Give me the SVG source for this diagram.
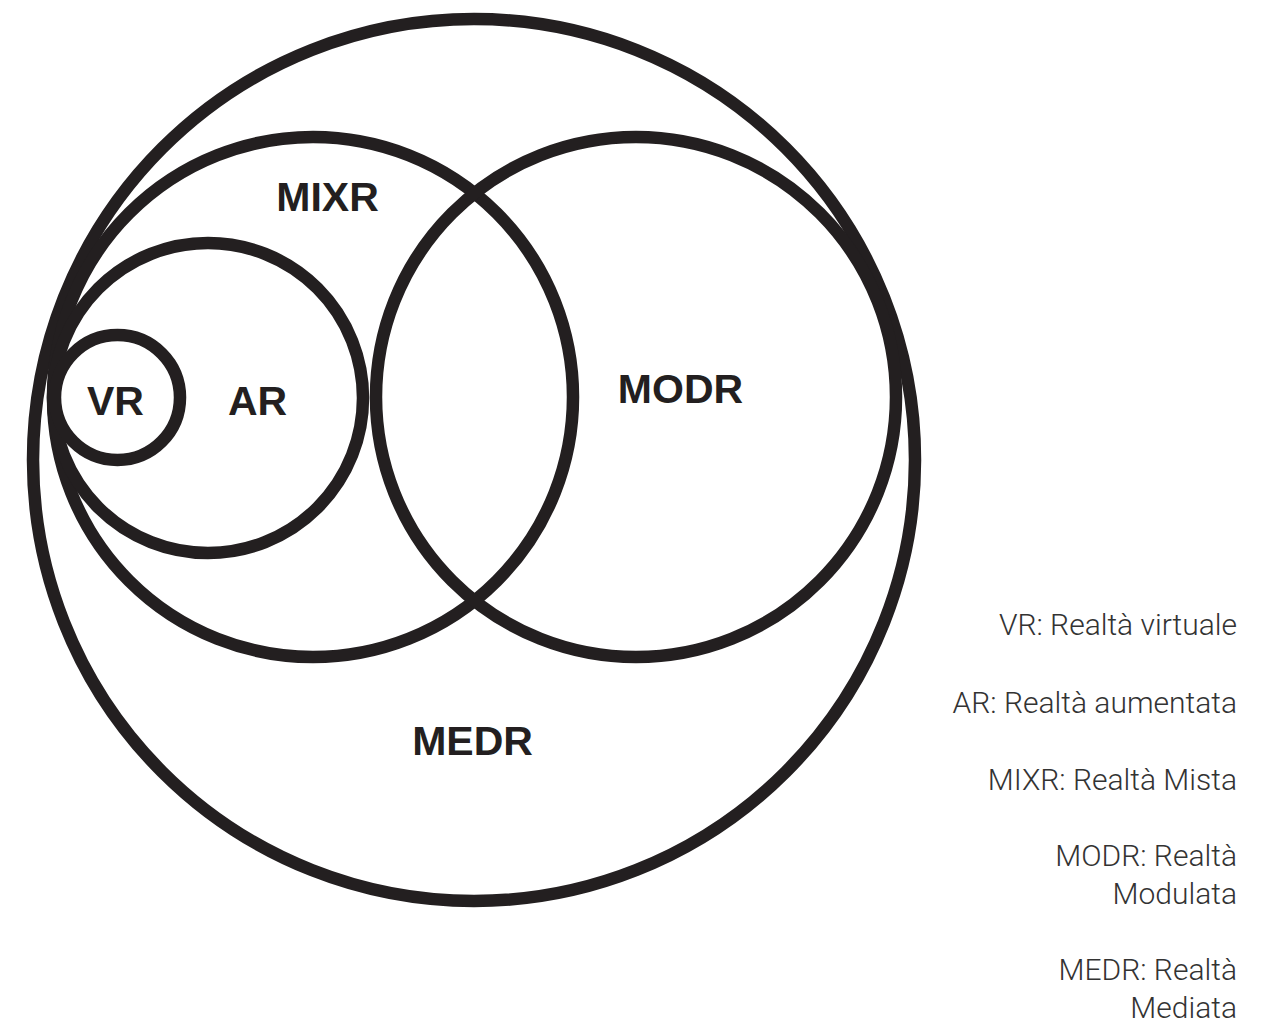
<svg xmlns="http://www.w3.org/2000/svg" width="1272" height="1025" viewBox="0 0 1272 1025">
<style>
.ring{fill:none;stroke:#231f20;stroke-width:12.5}
.lbl{font-family:"Liberation Sans",Arial,sans-serif;font-weight:bold;font-size:41px;fill:#231f20;text-anchor:middle}
.leg{font-family:Roboto,"Liberation Sans",sans-serif;font-weight:300;font-size:30px;fill:#333333;text-anchor:end}
</style>
<rect width="1272" height="1025" fill="#ffffff"/>
<g id="MEDR">
<circle class="ring" cx="474" cy="460" r="441"/>
<text class="lbl" x="472.5" y="755">MEDR</text>
</g>
<g id="MIXR">
<circle class="ring" cx="313" cy="397" r="260"/>
<text class="lbl" x="327.5" y="211">MIXR</text>
</g>
<g id="MODR">
<circle class="ring" cx="636" cy="397" r="260"/>
<text class="lbl" x="680.5" y="403">MODR</text>
</g>
<g id="AR">
<circle class="ring" cx="208" cy="398" r="155"/>
<text class="lbl" x="257.5" y="415">AR</text>
</g>
<g id="VR">
<circle class="ring" cx="117.5" cy="397.5" r="62.5"/>
<text class="lbl" x="115.5" y="415">VR</text>
</g>
<g id="connectors"/>
<g id="legend">
<text class="leg" x="1237" y="635">VR: Realtà virtuale</text>
<text class="leg" x="1237" y="713">AR: Realtà aumentata</text>
<text class="leg" x="1237" y="790">MIXR: Realtà Mista</text>
<text class="leg" x="1237" y="866">MODR: Realtà</text>
<text class="leg" x="1237" y="904">Modulata</text>
<text class="leg" x="1237" y="980">MEDR: Realtà</text>
<text class="leg" x="1237" y="1018">Mediata</text>
</g>
</svg>
